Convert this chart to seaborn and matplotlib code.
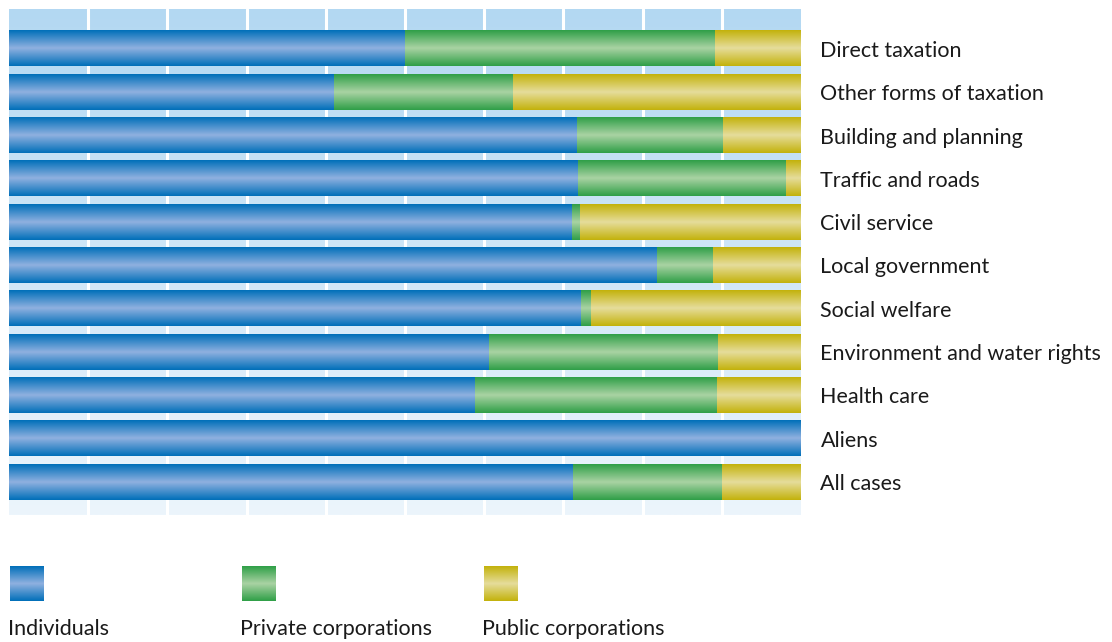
import numpy as np
import pandas as pd
import matplotlib
matplotlib.use("Agg")
import matplotlib.pyplot as plt
from matplotlib.colors import LinearSegmentedColormap
import seaborn as sns

categories = ["Direct taxation", "Other forms of taxation", "Building and planning",
              "Traffic and roads", "Civil service", "Local government", "Social welfare",
              "Environment and water rights", "Health care", "Aliens", "All cases"]
individuals = [50.0, 41.0, 71.7, 71.8, 71.0, 81.8, 72.1, 60.6, 58.8, 100.0, 71.2]
private_corp = [39.1, 22.6, 18.4, 26.2, 1.0, 7.0, 1.3, 28.9, 30.5, 0.0, 18.7]
public_corp = [10.9, 36.4, 9.9, 2.0, 28.0, 11.2, 26.6, 10.5, 10.7, 0.0, 10.1]
series_names = ["Individuals", "Private corporations", "Public corporations"]

sns.set_theme(style="white")
plt.rcParams['font.family'] = ['Lato', 'DejaVu Sans']

edge_cols = ["#006fb9", "#2f9f47", "#c3b20b"]
mid_cols = ["#90b1e0", "#aad3a4", "#e6dd9c"]
cmaps = [LinearSegmentedColormap.from_list(f"g{i}", [e, m, e]) for i, (e, m) in enumerate(zip(edge_cols, mid_cols))]
grad = np.linspace(0, 1, 128).reshape(-1, 1)

df = pd.DataFrame({"category": categories, "ind": individuals,
                   "priv": private_corp, "pub": public_corp})
df["c1"] = df["ind"]
df["c2"] = df["ind"] + df["priv"]
df["c3"] = df["c2"] + df["pub"]

fig = plt.figure(figsize=(11.12, 6.42), dpi=100)
ax = fig.add_axes([9/1112, 127/642, 792/1112, 506/642])

# background gradient
bg = LinearSegmentedColormap.from_list("bg", ["#b3d8f2", "#ecf5fc"])
ax.imshow(np.linspace(0, 1, 256).reshape(-1, 1), cmap=bg, aspect="auto",
          extent=[0, 100, 10.76, -0.92], zorder=0)

bar_h = 0.81
layers = [("c3", 2), ("c2", 1), ("c1", 0)]
for k, (col, ci) in enumerate(layers):
    n_before = len(ax.patches)
    sns.barplot(data=df, x=col, y="category", orient="h", color=edge_cols[ci],
                width=bar_h, ax=ax, zorder=2 + k, linewidth=0)
    for p in ax.patches[n_before:]:
        x0, y0 = p.get_x(), p.get_y()
        w, h = p.get_width(), p.get_height()
        if w <= 0:
            continue
        p.set_alpha(0)
        ax.imshow(grad, cmap=cmaps[ci], aspect="auto",
                  extent=[x0, x0 + w, y0 + h, y0], zorder=2 + k,
                  interpolation="bilinear")

ax.set_xlim(0, 100)
ax.set_ylim(10.76, -0.92)
ax.set_xticks(np.arange(10, 100, 10))
ax.grid(axis="x", color="white", linewidth=2.2, zorder=1)
ax.grid(axis="y", visible=False)
ax.set_xlabel("")
ax.set_ylabel("")
ax.tick_params(axis="x", length=0, labelbottom=False)
ax.yaxis.tick_right()
ax.tick_params(axis="y", length=0, pad=14, labelsize=15.5, labelcolor="#1a1a1a")
for lbl in ax.get_yticklabels():
    lbl.set_fontweight("normal")
for s in ax.spines.values():
    s.set_visible(False)

# legend
lax = fig.add_axes([0, 0, 1, 1])
lax.set_xlim(0, 1112)
lax.set_ylim(642, 0)
lax.axis("off")
sw_x = [10, 242, 484]
for i, name in enumerate(series_names):
    lax.imshow(grad, cmap=cmaps[i], aspect="auto",
               extent=[sw_x[i], sw_x[i] + 34, 601, 566], interpolation="bilinear")
    lax.text(sw_x[i] - 2, 635, name, fontsize=15.5, fontweight="normal",
             color="#1a1a1a", va="baseline", ha="left")
lax.set_xlim(0, 1112)
lax.set_ylim(642, 0)

fig.savefig("out.png", dpi=100)
